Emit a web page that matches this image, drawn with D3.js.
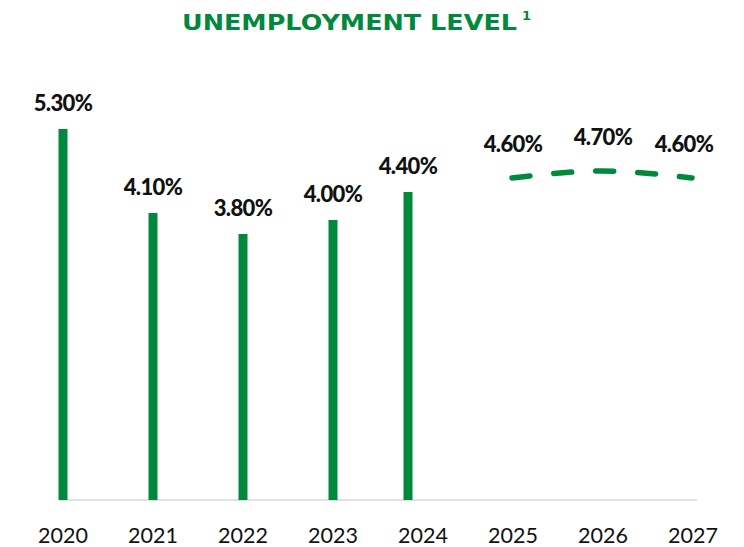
<!DOCTYPE html>
<meta charset="utf-8">
<body style="margin:0;background:#fff">
<script src="https://cdnjs.cloudflare.com/ajax/libs/d3/7.8.5/d3.min.js"></script>
<script>
// actual years (bars) and forecast years (dashed line)
var years = ["2020", "2021", "2022", "2023", "2024", "2025", "2026", "2027"];
var actualYears = ["2020", "2021", "2022", "2023", "2024"];
var actualValues = [5.3, 4.1, 3.8, 4.0, 4.4];
var forecastYears = ["2025", "2026", "2027"];
var forecastValues = [4.6, 4.7, 4.6];

var width = 744, height = 547;
var green = "#00893d";

var svg = d3.select("body").append("svg")
  .attr("width", width)
  .attr("height", height);

var x = d3.scalePoint().domain(years).range([63, 693]);
var y = d3.scaleLinear().domain([0, 6]).range([500, 80]);

var fmt = function(v) { return v.toFixed(2) + "%"; };

// title
svg.append("text")
  .attr("x", 182)
  .attr("y", 30)
  .attr("fill", green)
  .style("font-family", "DejaVu Sans")
  .style("font-weight", 700)
  .style("font-size", "20.5px")
  .attr("textLength", 335)
  .attr("lengthAdjust", "spacingAndGlyphs")
  .text("UNEMPLOYMENT LEVEL");
svg.append("text")
  .attr("x", 522)
  .attr("y", 20)
  .attr("fill", green)
  .style("font-family", "DejaVu Sans")
  .style("font-weight", 700)
  .style("font-size", "13px")
  .text("1");

// baseline
svg.append("line")
  .attr("x1", 59).attr("x2", 697)
  .attr("y1", y(0)).attr("y2", y(0))
  .attr("stroke", "#d9d9d9")
  .attr("stroke-width", 1.5);

// the 2024 bar sits a little left of its tick in the original
var nudge = function(yr) { return yr === "2024" ? -15 : 0; };

var actual = actualYears.map(function(d, i) { return {year: d, value: actualValues[i]}; });
var forecast = forecastYears.map(function(d, i) { return {year: d, value: forecastValues[i]}; });

function valueLabel(sel) {
  sel.attr("text-anchor", "middle")
    .style("font-family", "Lato")
    .style("font-weight", 900)
    .style("font-size", "22px")
    .style("letter-spacing", "-0.6px")
    .attr("fill", "#111")
    .text(function(d) { return fmt(d.value); });
}

var bw = 9;
svg.append("g").selectAll("rect")
  .data(actual)
  .enter().append("rect")
  .attr("x", function(d) { return x(d.year) + nudge(d.year) - bw / 2; })
  .attr("y", function(d) { return y(d.value); })
  .attr("width", bw)
  .attr("height", function(d) { return y(0) - y(d.value); })
  .attr("fill", green);

svg.append("g").selectAll("text")
  .data(actual)
  .enter().append("text")
  .attr("x", function(d) { return x(d.year) + nudge(d.year); })
  .attr("y", function(d) { return y(d.value) - 18; })
  .call(valueLabel);

// forecast dashed curve
var line = d3.line()
  .x(function(d) { return x(d.year); })
  .y(function(d) { return y(d.value); })
  .curve(d3.curveNatural);

svg.append("path")
  .datum(forecast)
  .attr("d", line)
  .attr("fill", "none")
  .attr("stroke", green)
  .attr("stroke-width", 5.5)
  .attr("stroke-linecap", "round")
  .attr("stroke-dasharray", "18,24")
  .attr("transform", "translate(-1,0)");

svg.append("g").selectAll("text")
  .data(forecast)
  .enter().append("text")
  .attr("x", function(d, i) { return x(d.year) + (i === forecast.length - 1 ? -9 : 0); })
  .attr("y", function(d) { return y(d.value) - 26; })
  .call(valueLabel);

// x axis labels
svg.append("g").selectAll("text")
  .data(years)
  .enter().append("text")
  .attr("x", function(d) { return x(d); })
  .attr("y", 543)
  .attr("text-anchor", "middle")
  .style("font-family", "Lato")
  .style("font-size", "21.5px")
  .attr("fill", "#111")
  .text(function(d) { return d; });
</script>
</body>
